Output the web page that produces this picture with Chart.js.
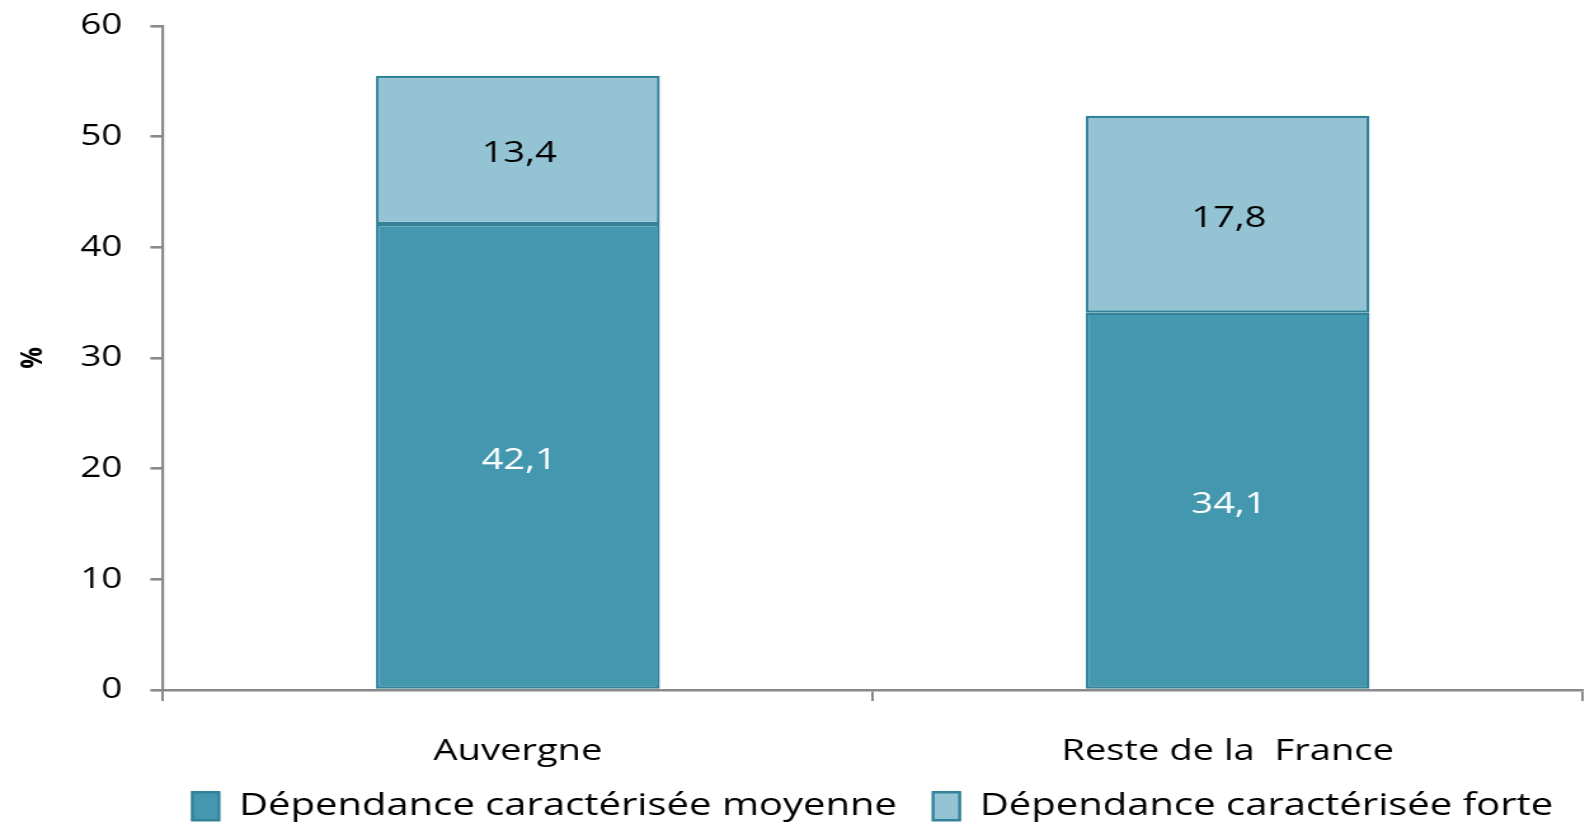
<!DOCTYPE html>
<html><head><meta charset="utf-8">
<script src="https://cdn.jsdelivr.net/npm/chart.js@4/dist/chart.umd.min.js"></script>
<style>html,body{margin:0;padding:0;background:#fff;overflow:hidden}</style>
</head><body><canvas id="c" width="1248" height="824" style="width:1585px;height:824px;display:block"></canvas>
<script>
const categories = ["Auvergne", "Reste de la  France"];
const seriesNames = ["Dépendance caractérisée moyenne", "Dépendance caractérisée forte"];
const moyenne = [42.1, 34.1];
const forte = [13.4, 17.8];
const yTicks = [0, 10, 20, 30, 40, 50, 60];

const FONT = "'Open Sans', 'Liberation Sans', sans-serif";
const AXIS = '#898989';
const BORDER = '#34829A';

const labelsPlugin = {
  id: 'valueLabels',
  afterDatasetsDraw(chart) {
    const ctx = chart.ctx;
    ctx.save();
    ctx.font = "30px " + FONT;
    ctx.textAlign = 'center';
    ctx.textBaseline = 'middle';
    chart.data.datasets.forEach((ds, di) => {
      const meta = chart.getDatasetMeta(di);
      meta.data.forEach((el, i) => {
        const v = ds.data[i];
        ctx.fillStyle = di === 0 ? '#ffffff' : '#000000';
        ctx.fillText(String(v).replace('.', ','), el.x + 1, (el.y + el.base) / 2 + 4);
      });
    });
    ctx.restore();
  }
};

new Chart(document.getElementById('c'), {
  type: 'bar',
  data: {
    labels: categories,
    datasets: [
      { label: seriesNames[0], data: moyenne, backgroundColor: '#4398B0', borderColor: BORDER, borderWidth: 2.4, borderSkipped: false },
      { label: seriesNames[1], data: forte, backgroundColor: '#94C3D4', borderColor: BORDER, borderWidth: 2.4, borderSkipped: false }
    ]
  },
  options: {
    responsive: false,
    animation: false,
    devicePixelRatio: 1,
    layout: { padding: { top: 26, right: 2, bottom: -8, left: 0 } },
    datasets: { bar: { categoryPercentage: 1, barPercentage: 0.4 } },
    scales: {
      x: {
        stacked: true,
        offset: true,
        border: { color: AXIS, width: 2.6 },
        grid: { offset: true, drawOnChartArea: false, color: AXIS, lineWidth: 2, tickLength: 11 },
        ticks: { color: '#000', padding: 32, font: { family: FONT, size: 30 } },
        afterFit(s) { s.height = 88.5; }
      },
      y: {
        stacked: true,
        min: 0, max: 60,
        afterBuildTicks(s) { s.ticks = yTicks.map(v => ({ value: v })); },
        border: { color: AXIS, width: 2.2 },
        grid: { drawOnChartArea: false, color: AXIS, lineWidth: 2.6, tickLength: 10 },
        ticks: { color: '#000', padding: 22, font: { family: FONT, size: 29 } },
        title: { display: true, text: '%', color: '#000', font: { family: FONT, size: 24, weight: 'bold' }, padding: { top: 12, bottom: 0 } },
        afterFit(s) { s.width = 128.4; s.paddingTop = 0; s.paddingBottom = 0; }
      }
    },
    plugins: {
      legend: {
        position: 'bottom',
        fullSize: false,
        labels: {
          color: '#000', boxWidth: 21, boxHeight: 28, padding: 12,
          font: { family: FONT, size: 31.5 },
          generateLabels(chart) {
            const items = Chart.defaults.plugins.legend.labels.generateLabels(chart);
            items.forEach((it, i) => { if (i < items.length - 1) it.text = it.text + '  '; });
            return items;
          }
        }
      },
      tooltip: { enabled: false }
    }
  },
  plugins: [labelsPlugin]
});
</script></body></html>
